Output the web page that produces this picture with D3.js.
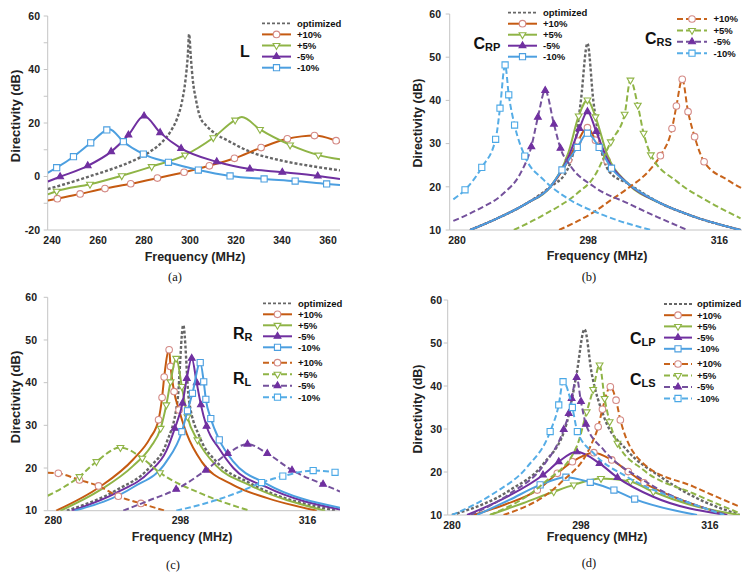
<!DOCTYPE html>
<html><head><meta charset="utf-8">
<script src="https://cdn.jsdelivr.net/npm/d3@7"></script>
<style>body{margin:0;background:#fff}svg{display:block}text{font-family:"Liberation Sans",Arial,sans-serif}</style>
</head><body>
<svg id="c" width="754" height="579"></svg>
<script>
// ---------- tick labels ----------
const aXTicks = [240, 260, 280, 300, 320, 340, 360];
const aYTicks = [-20, 0, 20, 40, 60];
const fXTicks = [280, 298, 316];
const fYTicks = [10, 20, 30, 40, 50, 60];
const legendNames = ['optimized', '+10%', '+5%', '-5%', '-10%'];

// ---------- panel (a): L ----------
const aOptLine = [[238.1,-4.7],[245,-3],[255,-0.3],[265,2.5],[275,5.8],[283,9.5],[288,13],[292,17.5],[294.5,22],[296.5,28],[298,36],[299,45],[299.6,53.2],[300.3,45],[301.2,36],[302.5,29],[304.3,22.4],[307.2,18.9],[311,16],[316,13.6],[326,9.3],[340.6,5.8],[352,4],[365.2,2.3]];
const aP10Marks = [[242.3,-8.3],[252.2,-6.5],[263,-4.5],[274.2,-2.7],[285.8,-0.6],[297.4,1.6],[308.4,4.0],[319.3,6.8],[330.9,10.8],[342.3,14.1],[354.1,15.3],[363.5,13.4]];
const aP10Line = [[238.1,-9.0],[348.5,15.0],[365.2,12.9]];
const aP5Marks = [[242,-5.5],[256.5,-2.9],[270.3,0.3],[283.3,3.7],[297.8,8.0],[310.1,14.5],[319.6,21.1],[330.4,17.6],[343.5,11.8],[355.8,8.0]];
const aP5Line = [[238.1,-6.7],[322.5,22.2],[365.2,6.4]];
const aM5Marks = [[243.5,-0.1],[255.5,4.0],[265.7,9.3],[273.2,15.5],[280,22.6],[287,16.4],[296.1,10.5],[311.6,5.5],[326,2.8],[340.1,1.6],[355.5,0.2]];
const aM5Line = [[238.1,-1.9],[365.2,-0.9]];
const aM10Marks = [[242,3.3],[249.3,7.4],[256.8,12.6],[263.8,17.4],[271,13.0],[279.7,8.4],[290.6,5.3],[303.6,2.4],[317.4,0.2],[332.2,-0.9],[345.7,-1.7],[359.4,-2.8]];
const aM10Line = [[238.1,1.4],[265,17.7],[365.2,-3.2]];

// ---------- panel (b): C_RP (solid), C_RS (dashed) ----------
const bOptLine = [[281.8,10],[285,12.3],[289.6,16.2],[292.8,20],[295,23.5],[296.2,30],[297,40],[297.9,53.2],[298.7,40],[299.6,30],[300.9,23.5],[303.4,20.8],[307.9,16.2],[312.5,13.1],[318.9,10]];
const bP10Marks = [[295.3,26.2],[296.6,30.6],[297.9,33.7],[299,30.8],[300.6,26]];
const bP10Line = [[281.8,10],[285,12.3],[289.6,16.2],[292.8,20],[303.4,20.8],[307.9,16.2],[312.5,13.1],[318.9,10]];
const bP5Marks = [[296.7,36.4],[297.9,40.1],[299,36.2]];
const bP5Line = [[281.8,10],[285,12.3],[289.6,16.2],[292.8,20],[295.3,28],[300.6,27.5],[303.4,20.8],[307.9,16.2],[312.5,13.1],[318.9,10]];
const bM5Marks = [[296.8,33.5],[297.9,37.4],[299.1,32.8]];
const bM5Line = [[281.8,10],[285,12.3],[289.6,16.2],[292.8,20],[295.3,27],[300.6,26.5],[303.4,20.8],[307.9,16.2],[312.5,13.1],[318.9,10]];
const bM10Marks = [[294.4,23.9],[296.5,29.1],[297.9,32.4],[299.5,29.1],[301.2,24.3]];
const bM10Line = [[281.8,10],[285,12.3],[289.6,16.2],[292.8,20],[303.4,20.8],[307.9,16.2],[312.5,13.1],[318.9,10]];
const bP10dMarks = [[307.9,27.2],[309.5,33.5],[310.1,38.7],[310.9,44.9],[311.7,37.4],[312.6,31.6],[313.9,25.8]];
const bP10dLine = [[294,10],[298.8,14.2],[301.1,16.9],[303.4,19.6],[306.6,24.2],[317.1,21.6],[319.1,19.6]];
const bP5dMarks = [[301.1,30.4],[303,36.8],[303.8,44.7],[304.8,38.9],[305.6,32.4],[306.6,27.4]];
const bP5dLine = [[287.8,10],[291.9,13.5],[296.5,18.5],[298.8,22.3],[310.2,21.2],[314.8,16.3],[318.9,12.7]];
const bM5dMarks = [[290.2,29.3],[291.1,36.1],[292.1,42.3],[293.3,34.5],[294.2,28.9]];
const bM5dLine = [[279.5,12.1],[282.7,14.6],[286.4,18.5],[288.7,23.1],[295.5,25],[298.8,20],[303.4,16.2],[307.5,13],[311.6,10]];
const bM10dMarks = [[281.1,19.3],[283.4,24.5],[285.3,31],[285.9,38.2],[286.6,48.2],[287.1,41.3],[287.9,34.3],[289.3,27.1]];
const bM10dLine = [[279.5,17.1],[291.9,21.6],[295,17.5],[300,13.5],[306.6,10]];

// ---------- panel (c): R_R (solid), R_L (dashed) ----------
const cOptLine = [[281.9,10],[288.9,14.8],[293.7,20.3],[296,25.8],[297.6,36],[298.4,53.5],[299.2,36],[300.8,27],[303.1,21.5],[307.8,16.5],[320.1,10]];
const cP10Marks = [[294.9,31.3],[295.4,36.5],[295.7,41.3],[296.4,47.7],[296.6,43.8],[297.1,37.9],[297.8,33.6]];
const cP10Line = [[280.4,10],[286.6,15.6],[291.3,22],[293.7,27],[298.9,28],[301,21.5],[305.5,16],[310.2,13],[317.3,10]];
const cP5Marks = [[295.2,29.3],[296,34.8],[296.6,40.2],[297.4,45.7],[298.2,39.1],[299,32],[300.4,26.6]];
const cP5Line = [[281,10],[286.6,14.8],[291.3,20.5],[293.8,25],[303.1,20.5],[307.8,16],[318.5,10]];
const cM5Marks = [[297.2,29.3],[298.3,35.2],[298.9,41],[299.6,45.7],[300.3,40],[300.9,34.8],[301.7,29.8]];
const cM5Line = [[282.6,10],[288.9,14.2],[293.7,19.2],[296,24],[303.5,24.5],[305.5,20],[310.2,15.5],[320.6,10.3]];
const cM10Marks = [[298.2,28.5],[299,33.4],[299.7,37.5],[300.8,44.7],[301.3,40.2],[301.6,36.1],[302.3,31.6],[303.5,26.6]];
const cM10Line = [[283,10],[291.3,15.5],[296,21.5],[305.5,21.5],[310.2,16.3],[320.6,10.7]];
const cP10dMarks = [[280.7,18.75],[283.7,17.2],[286.4,15.8],[289.2,13.4],[292.4,11.7]];
const cP10dLine = [[279.2,18.9],[295.8,10]];
const cP5dMarks = [[283.7,18],[286.1,21.5],[289.5,24.8],[292.6,22.3],[295.1,18.9]];
const cP5dLine = [[279.2,13.5],[300.8,14.1],[307.8,10]];
const cM5dMarks = [[297.4,15],[301.6,19.5],[304.7,23.4],[307.5,25.6],[310.3,23.4],[313.8,19.5],[318.2,16.2]];
const cM5dLine = [[289.9,10],[293.7,12.5],[320.6,14.5]];
const cM10dMarks = [[309.5,16.6],[312.5,18.1],[316.8,19.4],[319.9,19]];
const cM10dLine = [[297.4,10],[303.1,12.5],[306.5,14.5],[320.6,18.8]];

// ---------- panel (d): C_LP (solid), C_LS (dashed) ----------
const dOptLine = [[280,10],[288.1,15.8],[292.8,22],[296,31.3],[297.4,42.9],[298.5,53.2],[299.5,42.9],[301.2,32.9],[304.4,25.1],[309.1,18.9],[313.7,14.3],[320.2,10]];
const dP10Marks = [[291.9,15.8],[294.7,19.7],[296.8,22.4],[299.8,24.5],[302.3,22.8],[304.6,20.1],[306.8,17.5]];
const dP10Line = [[283,10],[287.5,12.5],[311.4,13.9],[318.4,10]];
const dP5Marks = [[294.2,15.4],[297,17],[300.8,18.5],[304.9,17.8],[308.1,15.4]];
const dP5Line = [[285.3,10],[290,12.8],[313,12.5],[320.2,10]];
const dM5Marks = [[292.7,19.3],[294.9,22.4],[297.4,24.7],[300.6,22],[303.1,18.7]];
const dM5Line = [[282.1,10],[288,14.5],[308,14.3],[318.4,10]];
const dM10Marks = [[292.3,17],[295.9,18.8],[299.3,17.6],[302.6,15.8],[305.5,13.7]];
const dM10Line = [[283.5,10],[288,13.5],[314.2,10]];
const dP10dMarks = [[300.4,30.5],[301,34.6],[302.1,39.8],[302.9,36.7],[303.5,32.1]];
const dP10dLine = [[287.2,10],[295.1,17.4],[299.3,25.9],[306.7,22],[313.7,16.6],[320.2,11.9]];
const dP5dMarks = [[298.8,34],[299.7,39.2],[300.6,44.9],[301.3,37.1],[302,31.7],[303.1,26.7]];
const dP5dLine = [[285.3,10],[292.8,17.4],[297.4,25.9],[306.7,20.5],[313.7,15],[320.2,10.4]];
const dM5dMarks = [[295.6,29.9],[296.3,33.6],[296.7,37.1],[297.4,42],[298,36.4],[298.7,31.1]];
const dM5dLine = [[282.6,10],[288.1,15],[292.8,21.6],[301.2,25.1],[306.7,18.1],[318.4,10]];
const dM10dMarks = [[293.7,29.4],[294.9,35.6],[295.5,41],[296.8,35],[297.5,29.4]];
const dM10dLine = [[280,10],[285.8,15],[290.5,21.2],[299.8,24.3],[304.4,18.9],[313.7,12.5],[318,10]];

// ---------- styles ----------
const STY = {
  opt:  {color:'#666666', dash:'3,2', w:2.4, mark:null},
  p10:  {color:'#c55a11', dash:null, w:2, mark:'circle', fill:'#fff', stroke:'#d48a86'},
  p5:   {color:'#8fb446', dash:null, w:2, mark:'triDown', fill:'#fff', stroke:'#8fb446'},
  m5:   {color:'#7030a0', dash:null, w:2, mark:'triUp', fill:'#7030a0', stroke:'#7030a0'},
  m10:  {color:'#4c9fe0', dash:null, w:2, mark:'square', fill:'#fff', stroke:'#4c9fe0'},
  p10d: {color:'#c8641c', dash:'6,3', w:2, mark:'circle', fill:'#fff', stroke:'#d48a86'},
  p5d:  {color:'#8fb446', dash:'6,3', w:2, mark:'triDown', fill:'#fff', stroke:'#8fb446'},
  m5d:  {color:'#74519c', dash:'6,3', w:2, mark:'triUp', fill:'#7030a0', stroke:'#7030a0'},
  m10d: {color:'#56ade6', dash:'6,3', w:2, mark:'square', fill:'#fff', stroke:'#4aa8e6'}
};

const svg = d3.select('#c');

function markerPath(kind) {
  if (kind === 'circle') return d3.symbol(d3.symbolCircle, 34)();
  if (kind === 'square') return d3.symbol(d3.symbolSquare, 38)();
  return d3.symbol(d3.symbolTriangle, 20)();
}
function drawMarker(g, kind, x, y, s) {
  g.append('path').attr('d', markerPath(kind))
    .attr('transform', `translate(${x},${y})` + (kind === 'triDown' ? ' rotate(180)' : ''))
    .attr('fill', s.fill).attr('stroke', s.stroke).attr('stroke-width', 1.1);
}

const panels = [
  {id:'a', xDom:[238.1,365.2], xRng:[47.7,340], yDom:[-20,60], yRng:[230,16], xTicks:aXTicks, yTicks:aYTicks, minor:[-10,10,30,50],
   series:[[aOptLine,null,'opt'],[aP10Line,aP10Marks,'p10'],[aP5Line,aP5Marks,'p5'],[aM5Line,aM5Marks,'m5'],[aM10Line,aM10Marks,'m10']],
   legends:[{keys:['opt','p10','p5','m5','m10'], names:legendNames, lx:[262,291], tx:297, y0:23.3, dy:11.1}],
   tags:[{main:'L', sub:'', x:240, y:57}],
   ylab:{x:15, y:116, size:13}, xlab:{x:195, y:261}, cap:{text:'(a)', x:175, y:281}, tickLx:40},
  {id:'b', xDom:[279.0,319.1], xRng:[449.7,742], yDom:[10,60], yRng:[230,14], xTicks:fXTicks, yTicks:fYTicks, minor:[],
   series:[[bOptLine,null,'opt'],[bP10Line,bP10Marks,'p10'],[bP5Line,bP5Marks,'p5'],[bM5Line,bM5Marks,'m5'],[bM10Line,bM10Marks,'m10'],
           [bP10dLine,bP10dMarks,'p10d'],[bP5dLine,bP5dMarks,'p5d'],[bM5dLine,bM5dMarks,'m5d'],[bM10dLine,bM10dMarks,'m10d']],
   legends:[{keys:['opt','p10','p5','m5','m10'], names:legendNames, lx:[508,537], tx:543, y0:12.7, dy:11},
            {keys:['p10d','p5d','m5d','m10d'], names:legendNames.slice(1), lx:[677,707], tx:713.5, y0:19, dy:11.4}],
   tags:[{main:'C', sub:'RP', x:473.5, y:48.5},{main:'C', sub:'RS', x:645, y:44}],
   ylab:{x:417, y:123, size:12.5}, xlab:{x:597, y:260}, cap:{text:'(b)', x:589, y:281}, tickLx:441},
  {id:'c', xDom:[279.2,320.6], xRng:[47.7,340], yDom:[10,60], yRng:[510.7,297.3], xTicks:fXTicks, yTicks:fYTicks, minor:[],
   series:[[cOptLine,null,'opt'],[cP10Line,cP10Marks,'p10'],[cP5Line,cP5Marks,'p5'],[cM5Line,cM5Marks,'m5'],[cM10Line,cM10Marks,'m10'],
           [cP10dLine,cP10dMarks,'p10d'],[cP5dLine,cP5dMarks,'p5d'],[cM5dLine,cM5dMarks,'m5d'],[cM10dLine,cM10dMarks,'m10d']],
   legends:[{keys:['opt','p10','p5','m5','m10'], names:legendNames, lx:[263,292], tx:298, y0:303.3, dy:11},
            {keys:['p10d','p5d','m5d','m10d'], names:legendNames.slice(1), lx:[263,292], tx:298, y0:362.7, dy:11.5}],
   tags:[{main:'R', sub:'R', x:233, y:338.5},{main:'R', sub:'L', x:233, y:383.5}],
   ylab:{x:15, y:397, size:13}, xlab:{x:182, y:541}, cap:{text:'(c)', x:173, y:569}, tickLx:37},
  {id:'d', xDom:[279.4,320.2], xRng:[447.7,740], yDom:[10,60], yRng:[515,300], xTicks:fXTicks, yTicks:fYTicks, minor:[],
   series:[[dOptLine,null,'opt'],[dP10Line,dP10Marks,'p10'],[dP5Line,dP5Marks,'p5'],[dM5Line,dM5Marks,'m5'],[dM10Line,dM10Marks,'m10'],
           [dP10dLine,dP10dMarks,'p10d'],[dP5dLine,dP5dMarks,'p5d'],[dM5dLine,dM5dMarks,'m5d'],[dM10dLine,dM10dMarks,'m10d']],
   legends:[{keys:['opt','p10','p5','m5','m10'], names:legendNames, lx:[664,692], tx:697, y0:304, dy:11.2},
            {keys:['p10d','p5d','m5d','m10d'], names:legendNames.slice(1), lx:[664,692], tx:697, y0:364, dy:11.5}],
   tags:[{main:'C', sub:'LP', x:630, y:343.5},{main:'C', sub:'LS', x:630, y:385}],
   ylab:{x:417, y:409, size:12.5}, xlab:{x:597, y:541}, cap:{text:'(d)', x:589, y:567}, tickLx:442}
];

panels.forEach(p => {
  const x = d3.scaleLinear().domain(p.xDom).range(p.xRng);
  const y = d3.scaleLinear().domain(p.yDom).range(p.yRng);
  const g = svg.append('g');
  const left = p.xRng[0], right = p.xRng[1], top = p.yRng[1], bot = p.yRng[0];

  g.append('clipPath').attr('id', 'clip' + p.id).append('rect')
    .attr('x', left).attr('y', top - 12).attr('width', right - left).attr('height', bot - top + 12);

  // axes
  g.append('line').attr('x1', left).attr('x2', left).attr('y1', top).attr('y2', bot).attr('stroke', '#c4c4c4').attr('stroke-width', 1);
  g.append('line').attr('x1', left).attr('x2', right).attr('y1', bot).attr('y2', bot).attr('stroke', '#c4c4c4').attr('stroke-width', 1);
  p.yTicks.concat(p.minor).forEach(v => {
    g.append('line').attr('x1', left - 4).attr('x2', left).attr('y1', y(v)).attr('y2', y(v)).attr('stroke', '#c4c4c4');
  });
  p.yTicks.forEach(v => {
    g.append('text').attr('x', p.tickLx).attr('y', y(v)).attr('dy', '0.36em').attr('text-anchor', 'end')
      .attr('font-size', 10.5).attr('font-weight', 'bold').attr('fill', '#222').text(v);
  });
  p.xTicks.forEach(v => {
    g.append('text').attr('x', x(v)).attr('y', bot + 10).attr('dy', '0.36em').attr('text-anchor', 'middle')
      .attr('font-size', 10.5).attr('font-weight', 'bold').attr('fill', '#222').text(v);
  });

  // series
  const line = d3.line().x(d => x(d[0])).y(d => y(d[1])).curve(d3.curveMonotoneX);
  p.series.forEach(([pts, marks, key]) => {
    const s = STY[key];
    const all = pts.concat(marks || []).sort((a, b) => a[0] - b[0]);
    g.append('path').attr('d', line(all)).attr('fill', 'none').attr('stroke', s.color)
      .attr('stroke-width', s.w).attr('stroke-dasharray', s.dash).attr('clip-path', `url(#clip${p.id})`);
    if (marks) marks.forEach(m => drawMarker(g, s.mark, x(m[0]), y(m[1]), s));
  });

  // legends
  p.legends.forEach(L => {
    L.keys.forEach((k, i) => {
      const s = STY[k], yy = L.y0 + i * L.dy;
      g.append('line').attr('x1', L.lx[0]).attr('x2', L.lx[1]).attr('y1', yy).attr('y2', yy)
        .attr('stroke', s.color).attr('stroke-width', k === 'opt' ? 1.8 : s.w).attr('stroke-dasharray', s.dash);
      if (s.mark) drawMarker(g, s.mark, (L.lx[0] + L.lx[1]) / 2, yy, s);
      g.append('text').attr('x', L.tx).attr('y', yy).attr('dy', '0.36em').attr('font-size', 9.5)
        .attr('font-weight', 'bold').attr('fill', '#111').text(L.names[i]);
    });
  });

  // component tags
  p.tags.forEach(t => {
    const tx = g.append('text').attr('x', t.x).attr('y', t.y).attr('font-weight', 'bold').attr('fill', '#111');
    tx.append('tspan').attr('font-size', 16).text(t.main);
    if (t.sub) tx.append('tspan').attr('font-size', 11).attr('dy', 2).text(t.sub);
  });

  // axis titles and caption
  g.append('text').attr('transform', `translate(${p.ylab.x},${p.ylab.y}) rotate(-90)`).attr('dy', '0.36em')
    .attr('text-anchor', 'middle').attr('font-size', p.ylab.size).attr('font-weight', 'bold').attr('fill', '#222').text('Directivity (dB)');
  g.append('text').attr('x', p.xlab.x).attr('y', p.xlab.y).attr('text-anchor', 'middle')
    .attr('font-size', 12.5).attr('font-weight', 'bold').attr('fill', '#222').text('Frequency (MHz)');
  g.append('text').attr('x', p.cap.x).attr('y', p.cap.y).attr('text-anchor', 'middle')
    .attr('font-size', 12.5).attr('fill', '#111').style('font-family', '"Liberation Serif","Times New Roman",serif').text(p.cap.text);
});
</script>
</body></html>
